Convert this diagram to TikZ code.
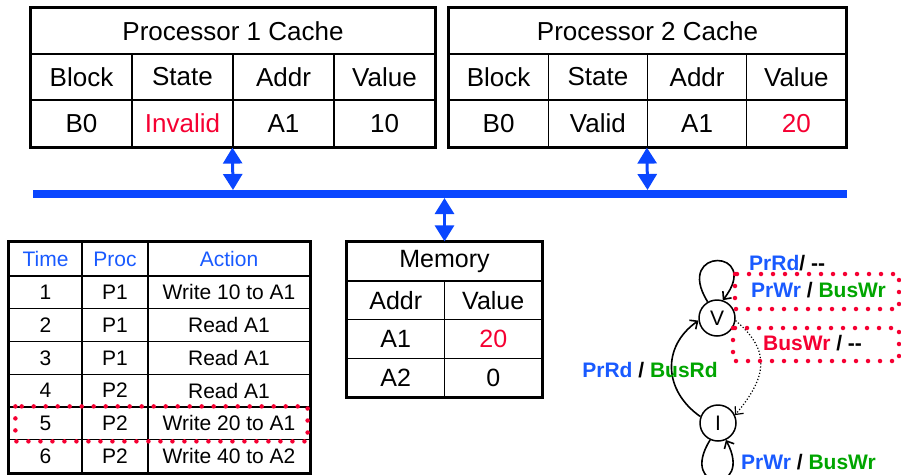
\documentclass[tikz,border=0pt]{standalone}
\usepackage{fontspec}
\setmainfont{Liberation Sans}
\usepackage{xcolor}
\usetikzlibrary{arrows.meta, positioning, calc}
\definecolor{busblue}{RGB}{10,70,255}
\definecolor{tblue}{RGB}{25,90,255}
\definecolor{tred}{RGB}{245,0,50}
\definecolor{tgreen}{RGB}{0,165,0}
\begin{document}
\begin{tikzpicture}[x=1pt, y=-1pt,
    every node/.style={font=\fontsize{21}{24}\selectfont},
    big/.style={font=\fontsize{26}{28}\selectfont},
    mid/.style={font=\fontsize{25}{28}\selectfont},
    cell/.style={draw, line width=1.2pt, inner sep=0pt},
    frame/.style={line width=3pt},
    a/.style={{Triangle[length=16pt,width=19pt]}-{Triangle[length=16pt,width=19pt]}, line width=3pt, busblue},
    st/.style={circle, draw, line width=1.5pt, minimum size=36pt, inner sep=0pt},
    sa/.style={-{Straight Barb[length=6pt,width=11pt]}, line width=1.6pt},
    lab/.style={font=\bfseries\fontsize{21}{24}\selectfont, inner sep=0pt, anchor=west},
    hl/.style={draw=tred, line width=4.5pt, line cap=round, dash pattern=on 0pt off 12pt}
]
\useasboundingbox (0,0) rectangle (901,474);
% caches
\node[cell, big, minimum width=404pt, minimum height=46pt] (p1) at (233,31) {Processor 1 Cache};
\foreach \t [count=\i] in {Block,State,Addr,Value}
  \node[cell, big, minimum width=101pt, minimum height=46pt] (p1h\i) at ({31+101*(\i-0.5)},77) {\t};
\foreach \t [count=\i] in {B0,\textcolor{tred}{Invalid},A1,10}
  \node[cell, big, minimum width=101pt, minimum height=47pt] (p1d\i) at ({31+101*(\i-0.5)},123.5) {\t};
\draw[frame] (p1.north west) rectangle (p1d4.south east);

\node[cell, big, minimum width=397pt, minimum height=46pt] (p2) at (647.5,31) {Processor 2 Cache};
\foreach \t [count=\i] in {Block,State,Addr,Value}
  \node[cell, big, minimum width=99.25pt, minimum height=46pt] (p2h\i) at ({449+99.25*(\i-0.5)},77) {\t};
\foreach \t [count=\i] in {B0,Valid,A1,\textcolor{tred}{20}}
  \node[cell, big, minimum width=99.25pt, minimum height=47pt] (p2d\i) at ({449+99.25*(\i-0.5)},123.5) {\t};
\draw[frame] (p2.north west) rectangle (p2d4.south east);

% bus
\coordinate (busL) at (33,194);
\coordinate (busR) at (847,194);
\draw[line width=8pt, busblue] (busL) -- (busR);
\coordinate (b1) at (233,190);
\coordinate (b2) at (647.5,190);
\coordinate (bm) at (444.5,198);

% memory
\node[cell, mid, minimum width=195pt, minimum height=39pt] (mem) at (444.5,261.5) {Memory};
\foreach \t/\v [count=\i] in {Addr/Value, A1/\textcolor{tred}{20}, A2/0} {
  \node[cell, mid, minimum width=97.5pt, minimum height=38.75pt] (ma\i) at (395.75,{281+38.75*(\i-0.5)}) {\t};
  \node[cell, mid, minimum width=97.5pt, minimum height=38.75pt] (mv\i) at (493.25,{281+38.75*(\i-0.5)}) {\v};
}
\draw[frame] (mem.north west) rectangle (mv3.south east);

\draw[a] (p1d3.south west) -- (b1);
\draw[a] (p2d3.south west) -- (b2);
\draw[a] (bm) -- (mem.north);

% time table
\node[cell, minimum width=73pt, minimum height=34pt, text=tblue] (th1) at (45.5,259) {Time};
\node[cell, minimum width=66pt, minimum height=34pt, text=tblue] (th2) at (115,259) {Proc};
\node[cell, minimum width=162pt, minimum height=34pt, text=tblue] (th3) at (229,259) {Action};
\foreach \t/\p/\x [count=\i] in {1/P1/Write 10 to A1, 2/P1/Read A1, 3/P1/Read A1,
    4/P2/Read A1, 5/P2/Write 20 to A1, 6/P2/Write 40 to A2} {
  \node[cell, minimum width=73pt, minimum height=32.75pt] (tt\i) at (45.5,{276+32.75*(\i-0.5)}) {\t};
  \node[cell, minimum width=66pt, minimum height=32.75pt] (tp\i) at (115,{276+32.75*(\i-0.5)}) {\p};
  \node[cell, minimum width=162pt, minimum height=32.75pt] (ta\i) at (229,{276+32.75*(\i-0.5)}) {\x};
}
\draw[frame] (th1.north west) rectangle (ta6.south east);
\draw[hl] ($(tt5.north west)+(7,0)$) rectangle ($(ta5.south east)+(-3,1)$);

% state diagram
\node[st] (V) at (717,318) {V};
\node[st] (I) at (718,423) {I};
\draw[sa] (V.120) to[out=122, in=52, looseness=11] (V.72);
\draw[sa] (I.245) to[out=238, in=298, looseness=10] (I.295);
\draw[sa] (I.160) to[out=145, in=215, looseness=1.2] (V.188);
\draw[sa, line width=1.2pt, dotted] (V.-8) to[out=-40, in=50, looseness=1.3] (I.25);

\node[lab, anchor=center] (l0) at (650,370) {\textcolor{tblue}{PrRd} / \textcolor{tgreen}{BusRd}};
\node[lab] (l1) at (749,263) {\textcolor{tblue}{PrRd}/ -{}-};
\node[lab] (l2) at (751,290) {\textcolor{tblue}{PrWr} / \textcolor{tgreen}{BusWr}};
\node[lab] (l3) at (763,343) {\textcolor{tred}{BusWr} / -{}-};
\node[lab] (l4) at (741,462) {\textcolor{tblue}{PrWr} / \textcolor{tgreen}{BusWr}};
\draw[hl] (735,274) rectangle (899,309);
\draw[hl] (733,328) rectangle (899,361);
\end{tikzpicture}
\end{document}
